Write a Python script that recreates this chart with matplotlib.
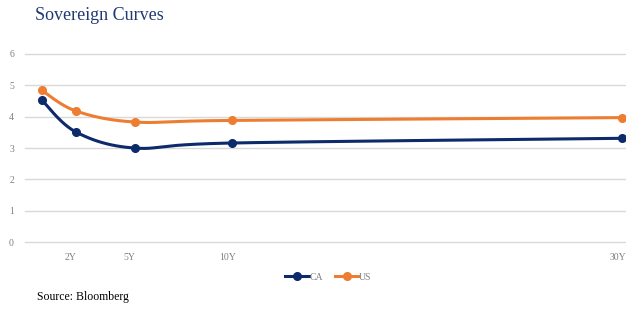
import numpy as np
import matplotlib
matplotlib.use("Agg")
import matplotlib.pyplot as plt
from matplotlib.transforms import ScaledTranslation

# ---- data ----
tenors = [0.25, 2, 5, 10, 30]           # years
tick_pos = [2, 5, 10, 30]
tick_labels = ["2Y", "5Y", "10Y", "30Y"]
ca = [4.53, 3.51, 3.00, 3.16, 3.31]
us = [4.84, 4.18, 3.83, 3.88, 3.97]
yticks = [0, 1, 2, 3, 4, 5, 6]

CA_COLOR = "#0D2A6B"
US_COLOR = "#ED7D31"
SERIF = ["Liberation Serif", "DejaVu Serif"]


def smooth(x, y, n=40):
    """Excel-like smoothed line (Catmull-Rom Bezier, parametric)."""
    P = np.column_stack([x, y]).astype(float)
    P = np.vstack([P[0], P, P[-1]])
    out = []
    for i in range(1, len(P) - 2):
        p0, p1, p2, p3 = P[i - 1], P[i], P[i + 1], P[i + 2]
        c1 = p1 + (p2 - p0) / 6.0
        c2 = p2 - (p3 - p1) / 6.0
        t = np.linspace(0, 1, n)[:, None]
        b = ((1 - t) ** 3) * p1 + 3 * ((1 - t) ** 2) * t * c1 + 3 * (1 - t) * t ** 2 * c2 + t ** 3 * p2
        out.append(b if i == 1 else b[1:])
    out = np.vstack(out)
    return out[:, 0], out[:, 1]


fig = plt.figure(figsize=(6.26, 3.10), dpi=100)
ax = fig.add_axes([0.040, 0.219, 0.96, 0.607])

for vals, col, lab in [(ca, CA_COLOR, "CA"), (us, US_COLOR, "US")]:
    sx, sy = smooth(tenors, vals)
    ax.plot(sx, sy, color=col, lw=2.2, solid_capstyle="round", clip_on=False, zorder=3)
    ax.plot(tenors, vals, "o", color=col, ms=5.5, clip_on=False, zorder=4)
    ax.plot([], [], "-o", color=col, lw=2.2, ms=5.5, label=lab)

ax.set_ylim(0, 6)
ax.set_xlim(-0.61, 30.18)
ax.set_yticks(yticks)
ax.set_xticks(tick_pos)
ax.set_xticklabels(tick_labels)
ax.grid(axis="y", color="#D9D9D9", lw=1)
for gl in ax.get_ygridlines():
    gl.set_clip_on(False)
ax.set_axisbelow(True)
for s in ax.spines.values():
    s.set_visible(False)
ax.tick_params(length=0, labelsize=7, labelcolor="#808080", pad=8)
for lbl in ax.get_yticklabels() + ax.get_xticklabels():
    lbl.set_family(SERIF)
off = ScaledTranslation(-5 / 100, 0, fig.dpi_scale_trans)
for lbl in ax.get_xticklabels():
    lbl.set_transform(lbl.get_transform() + off)

leg = ax.legend(loc="center", bbox_to_anchor=(0.505, -0.186), ncol=2, frameon=False,
                prop={"family": SERIF, "size": 7}, handlelength=2.4,
                handletextpad=0.1, columnspacing=1.2)
for t in leg.get_texts():
    t.set_color("#808080")

fig.text(35 / 626, 1 - 15 / 310, "Sovereign Curves", family=SERIF, fontsize=13,
         color="#1F3A73", va="center", ha="left")
fig.text(37 / 626, 1 - 297 / 310, "Source: Bloomberg", family=SERIF, fontsize=8.5,
         color="#000000", va="center", ha="left")

fig.savefig("out.png", dpi=100)
